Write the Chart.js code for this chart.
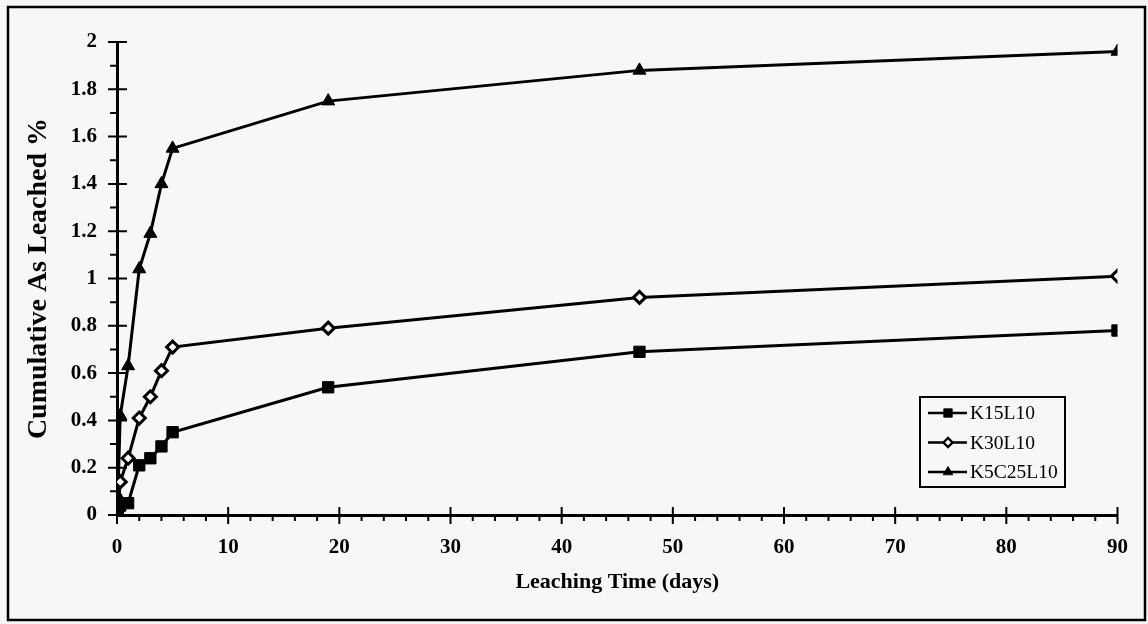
<!DOCTYPE html>
<html>
<head>
<meta charset="utf-8">
<script src="https://cdn.jsdelivr.net/npm/chart.js@4/dist/chart.umd.min.js"></script>
<style>
  html, body { margin: 0; padding: 0; background: #f7f7f7; }
  #wrap { width: 1148px; height: 624px; }
</style>
</head>
<body>
<div id="wrap"><canvas id="leachChart" width="1148" height="624"></canvas></div>
<script>
// Leaching times (days)
const days = [0.083, 0.29, 1, 2, 3, 4, 5, 19, 47, 90];

// Cumulative As leached (%)
const k15l10 = [0.02, 0.04, 0.05, 0.21, 0.24, 0.29, 0.35, 0.54, 0.69, 0.78];
const k30l10 = [0.03, 0.14, 0.24, 0.41, 0.50, 0.61, 0.71, 0.79, 0.92, 1.01];
const k5c25l10 = [0.08, 0.42, 0.63, 1.04, 1.19, 1.40, 1.55, 1.75, 1.88, 1.96];

const seriesNames = ['K15L10', 'K30L10', 'K5C25L10'];

// axis ticks
const xMajorStep = 10, xMinorStep = 2;
const yMajorStep = 0.2, yMinorStep = 0.1;

function toPoints(vals) {
  return vals.map((v, i) => ({ x: days[i], y: v }));
}

const serif = "'Liberation Serif', 'Times New Roman', serif";

// draws the outer frame, crossing ticks and the boxed legend
const framePlugin = {
  id: 'frame',
  beforeDraw(chart) {
    const ctx = chart.ctx;
    ctx.save();
    ctx.fillStyle = '#f7f7f7';
    ctx.fillRect(0, 0, chart.width, chart.height);
    ctx.strokeStyle = '#000';
    ctx.lineWidth = 2.5;
    ctx.strokeRect(8, 7, 1137, 613);
    ctx.restore();
  },
  afterDraw(chart) {
    const ctx = chart.ctx;
    const xs = chart.scales.x, ys = chart.scales.y;
    const x0 = xs.getPixelForValue(0);
    const y0 = ys.getPixelForValue(0);
    ctx.save();
    ctx.strokeStyle = '#000';
    ctx.lineWidth = 2;
    ctx.beginPath();
    // x ticks
    for (let v = 0; v <= xs.max + 1e-9; v += xMinorStep) {
      const px = xs.getPixelForValue(v);
      const major = Math.abs(v / xMajorStep - Math.round(v / xMajorStep)) < 1e-6;
      ctx.moveTo(px, major ? y0 - 8 : y0);
      ctx.lineTo(px, y0 + (major ? 9 : 6));
    }
    // y ticks
    for (let v = 0; v <= ys.max + 1e-9; v += yMinorStep) {
      const py = ys.getPixelForValue(v);
      const major = Math.abs(v / yMajorStep - Math.round(v / yMajorStep)) < 1e-6;
      ctx.moveTo(x0 - (major ? 9 : 7), py);
      ctx.lineTo(major ? x0 + 10 : x0, py);
    }
    ctx.stroke();

    // legend
    const lx = 920, ly = 397, lw = 145, lh = 90;
    ctx.fillStyle = '#f7f7f7';
    ctx.fillRect(lx, ly, lw, lh);
    ctx.lineWidth = 2;
    ctx.strokeRect(lx, ly, lw, lh);
    ctx.font = '19.5px ' + serif;
    ctx.textBaseline = 'middle';
    chart.data.datasets.forEach((ds, i) => {
      const cy = ly + 16 + i * 29.5;
      ctx.beginPath();
      ctx.lineWidth = 2.5;
      ctx.strokeStyle = '#000';
      ctx.moveTo(lx + 8, cy);
      ctx.lineTo(lx + 47, cy);
      ctx.stroke();
      ctx.fillStyle = ds.pointBackgroundColor;
      ctx.strokeStyle = '#000';
      ctx.lineWidth = ds.pointBorderWidth * 0.8;
      Chart.helpers.drawPoint(ctx, {
        pointStyle: ds.pointStyle,
        radius: ds.pointRadius * 0.75,
        borderWidth: ds.pointBorderWidth * 0.8,
        rotation: 0
      }, lx + 28, cy);
      ctx.fillStyle = '#000';
      ctx.fillText(ds.label, lx + 50, cy + 1);
    });
    ctx.restore();
  }
};

const ctx = document.getElementById('leachChart').getContext('2d');

new Chart(ctx, {
  type: 'line',
  data: {
    datasets: [
      {
        label: seriesNames[0],
        data: toPoints(k15l10),
        borderColor: '#000',
        borderWidth: 3,
        pointStyle: 'rect',
        pointRadius: 8,
        pointBackgroundColor: '#000',
        pointBorderColor: '#000',
        pointBorderWidth: 1
      },
      {
        label: seriesNames[1],
        data: toPoints(k30l10),
        borderColor: '#000',
        borderWidth: 3,
        pointStyle: 'rectRot',
        pointRadius: 6,
        pointBackgroundColor: '#fff',
        pointBorderColor: '#000',
        pointBorderWidth: 3
      },
      {
        label: seriesNames[2],
        data: toPoints(k5c25l10),
        borderColor: '#000',
        borderWidth: 3,
        pointStyle: 'triangle',
        pointRadius: 7.5,
        pointBackgroundColor: '#000',
        pointBorderColor: '#000',
        pointBorderWidth: 1
      }
    ]
  },
  options: {
    responsive: false,
    animation: false,
    events: [],
    layout: { padding: { left: 0, right: 24, top: 42, bottom: 0 } },
    elements: { line: { tension: 0 } },
    plugins: {
      legend: { display: false },
      tooltip: { enabled: false }
    },
    scales: {
      x: {
        type: 'linear',
        min: 0,
        max: 90,
        afterFit(scale) { scale.height = 109; },
        border: { display: true, color: '#000', width: 3 },
        grid: { display: true, drawOnChartArea: false, drawTicks: false },
        ticks: {
          stepSize: xMajorStep,
          padding: 20,
          color: '#000',
          font: { family: serif, size: 21, weight: 'bold' }
        },
        title: {
          display: true,
          text: 'Leaching Time (days)',
          color: '#000',
          font: { family: serif, size: 22, weight: 'bold' },
          padding: { top: 28, bottom: 28 }
        }
      },
      y: {
        type: 'linear',
        min: 0,
        max: 2,
        afterFit(scale) { scale.width = 117; },
        border: { display: true, color: '#000', width: 3 },
        grid: { display: true, drawOnChartArea: false, drawTicks: false },
        ticks: {
          stepSize: yMajorStep,
          padding: 20,
          color: '#000',
          font: { family: serif, size: 21, weight: 'bold' },
          callback: v => String(+v.toFixed(1))
        },
        title: {
          display: true,
          text: 'Cumulative As Leached %',
          color: '#000',
          font: { family: serif, size: 28, weight: 'bold' },
          padding: { top: 22, bottom: 0 }
        }
      }
    }
  },
  plugins: [framePlugin]
});
</script>
</body>
</html>
